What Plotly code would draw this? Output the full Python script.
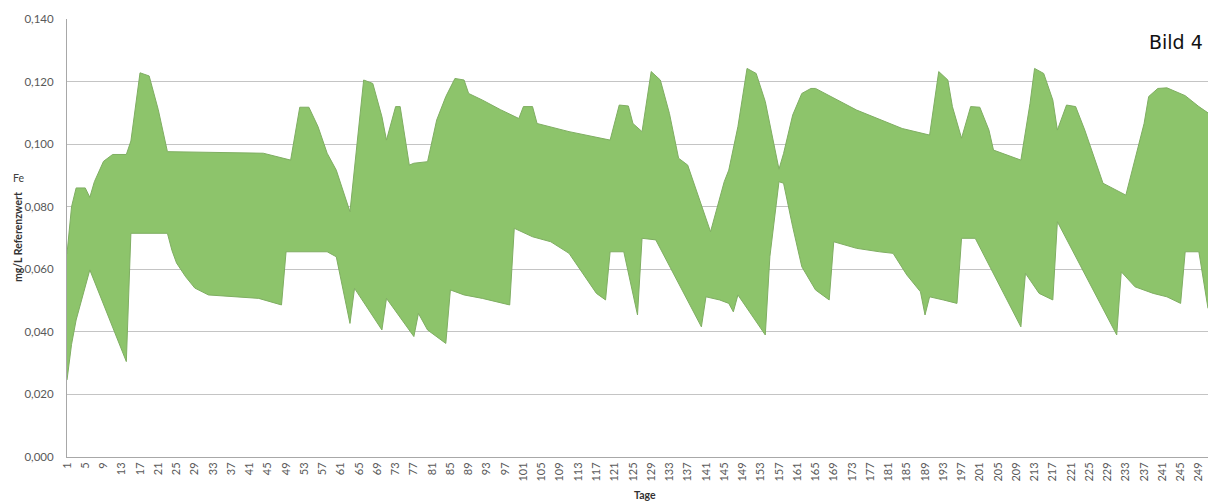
import plotly.graph_objects as go

# Upper boundary of the band (day, mg/L)
upper_days = [1, 2, 3, 5, 6, 7, 9, 11, 14, 15, 17, 19, 21, 23, 44, 50, 52, 54, 56, 58, 60, 63,
              66, 68, 70, 71, 73, 74, 76, 77, 80, 82, 84, 86, 88, 89, 92, 96, 100, 101, 103, 104,
              111, 120, 122, 124, 125, 127, 129, 131, 133, 135, 137, 142, 145, 146, 148, 150, 152,
              154, 157, 158, 160, 162, 164, 165, 174, 180, 184, 190, 192, 194, 195, 197, 199, 201,
              203, 204, 210, 212, 213, 215, 217, 218, 220, 222, 224, 228, 233, 237, 238, 240, 242,
              246, 249, 251]
upper_vals = [0.065, 0.080, 0.086, 0.086, 0.083, 0.088, 0.0945, 0.0967, 0.0967, 0.101, 0.1228,
              0.1218, 0.111, 0.0976, 0.0971, 0.0949, 0.1118, 0.1118, 0.1056, 0.0971, 0.0917, 0.0784,
              0.1205, 0.1194, 0.1088, 0.1013, 0.112, 0.112, 0.0933, 0.0939, 0.0944, 0.1077, 0.1152,
              0.121, 0.1205, 0.1162, 0.1141, 0.111, 0.1082, 0.112, 0.112, 0.1066, 0.104, 0.1013,
              0.1125, 0.1122, 0.1066, 0.104, 0.1232, 0.1205, 0.1098, 0.0955, 0.0933, 0.072, 0.088,
              0.0917, 0.1056, 0.1242, 0.1226, 0.1136, 0.092, 0.097, 0.1093, 0.1162, 0.1178, 0.1178,
              0.1109, 0.1075, 0.105, 0.1029, 0.1232, 0.1205, 0.112, 0.1019, 0.112, 0.1118, 0.1045,
              0.0981, 0.0949, 0.113, 0.1242, 0.1226, 0.1141, 0.1045, 0.1125, 0.112, 0.1045, 0.0875,
              0.0837, 0.1066, 0.1152, 0.1178, 0.118, 0.1155, 0.112, 0.110]

# Lower boundary of the band (day, mg/L)
lower_days = [1, 2, 3, 6, 14, 15, 23, 24, 25, 27, 29, 32, 43, 48, 49, 58, 60, 63, 64, 70, 71, 77,
              78, 80, 84, 85, 88, 92, 98, 99, 103, 107, 111, 114, 117, 119, 120, 123, 126, 127, 130,
              140, 141, 144, 146, 147, 148, 154, 155, 157, 158, 160, 162, 165, 168, 169, 174, 179,
              182, 185, 188, 189, 190, 193, 196, 197, 200, 210, 211, 214, 217, 218, 231, 232, 235,
              239, 242, 245, 246, 249, 251]
lower_vals = [0.0246, 0.036, 0.0438, 0.0598, 0.0305, 0.0715, 0.0715, 0.066, 0.062, 0.0576, 0.054,
              0.0518, 0.0507, 0.0486, 0.0656, 0.0656, 0.064, 0.0427, 0.0539, 0.0406, 0.0507, 0.0385,
              0.0459, 0.0406, 0.0363, 0.0534, 0.0518, 0.0507, 0.0486, 0.0731, 0.0704, 0.0688,
              0.0651, 0.0587, 0.0523, 0.0502, 0.0656, 0.0656, 0.0454, 0.0699, 0.0694, 0.0416,
              0.0512, 0.0502, 0.0491, 0.0464, 0.0518, 0.039, 0.064, 0.088, 0.0875, 0.0736, 0.0608,
              0.0534, 0.0502, 0.0688, 0.0667, 0.0656, 0.0651, 0.0582, 0.0528, 0.0454, 0.0512,
              0.0502, 0.0491, 0.0699, 0.0699, 0.0416, 0.0587, 0.0523, 0.0502, 0.0752, 0.039,
              0.0592, 0.0544, 0.0523, 0.0512, 0.0491, 0.0656, 0.0656, 0.0475]

GREEN = "#8dc46b"
EDGE = "#7fae62"
GRID = "#c4c4c4"

fig = go.Figure()
fig.add_trace(go.Scatter(x=lower_days, y=lower_vals, mode="lines",
                         line=dict(color=EDGE, width=1), showlegend=False, hoverinfo="skip"))
fig.add_trace(go.Scatter(x=upper_days, y=upper_vals, mode="lines", fill="tonexty",
                         fillcolor=GREEN, line=dict(color=EDGE, width=1), showlegend=False))

fig.update_layout(
    width=1210, height=502,
    margin=dict(l=67, r=2, t=19, b=45),
    paper_bgcolor="white", plot_bgcolor="white",
    separators=",.",
    font=dict(family="Lato", color="#595959"),
    xaxis=dict(range=[1, 251], tick0=1, dtick=4, tickangle=-90, showgrid=False,
               showline=True, linecolor="#a8a8a8", linewidth=1, ticks="",
               tickfont=dict(size=11, color="#595959"), zeroline=False),
    yaxis=dict(range=[0, 0.14], dtick=0.02, tickformat=".3f", showgrid=True,
               gridcolor=GRID, gridwidth=1, showline=True, linecolor="#a8a8a8",
               ticks="", ticklabelstandoff=10, tickfont=dict(size=11.5, color="#595959"),
               zeroline=False),
    annotations=[
        dict(text="Bild 4", xref="paper", yref="paper", x=0.997, y=0.947,
             xanchor="right", yanchor="middle", showarrow=False,
             font=dict(family="DejaVu Sans", size=19, color="#111111")),
        dict(text="<b>mg/L Referenzwert</b>", xref="paper", yref="paper", x=0, y=0.502,
             xshift=-49, xanchor="center", yanchor="middle", textangle=-90, showarrow=False,
             font=dict(family="Lato", size=10.5, color="#333333")),
        dict(text="Fe", xref="paper", yref="paper", x=0, y=0.637, xshift=-49,
             xanchor="center", yanchor="middle", showarrow=False,
             font=dict(family="Lato", size=10.5, color="#404040")),
        dict(text="<b>Tage</b>", xref="paper", yref="paper", x=0.5066, y=-0.0868,
             xanchor="center", yanchor="middle", showarrow=False,
             font=dict(family="Lato", size=10.5, color="#333333")),
    ],
)

fig.write_html("out.html", config={"displayModeBar": False},
               post_script="document.body.style.margin='0';document.body.style.overflow='hidden';")
